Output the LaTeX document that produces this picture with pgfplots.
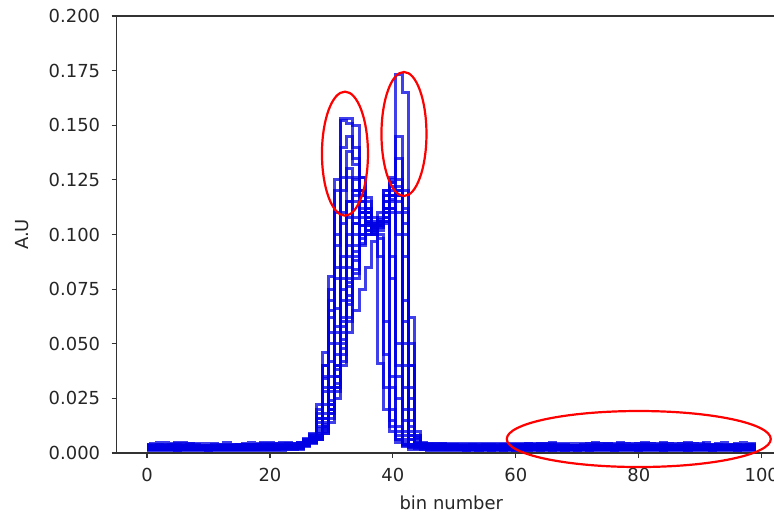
\documentclass[border=0pt]{standalone}
\usepackage{pgfplots}
\pgfplotsset{compat=1.18}
\usepackage{pgfplotstable}
\usepackage{fontspec}
\setmainfont{DejaVu Sans}

\pgfplotstableread{
x A B C D E F G H
0 .0040 .0034 .0030 .0026 .0022 .0018 .0014 .0010
1 .0044 .0036 .0032 .0028 .0024 .0020 .0016 .0012
2 .0046 .0038 .0030 .0026 .0024 .0018 .0014 .0010
3 .0048 .0036 .0032 .0030 .0022 .0020 .0016 .0012
4 .0044 .0040 .0034 .0028 .0024 .0018 .0014 .0010
5 .0046 .0038 .0030 .0026 .0022 .0020 .0012 .0010
6 .0048 .0036 .0032 .0028 .0024 .0018 .0016 .0012
7 .0042 .0038 .0034 .0030 .0022 .0020 .0014 .0010
8 .0038 .0034 .0030 .0026 .0024 .0018 .0016 .0012
9 .0036 .0032 .0030 .0028 .0022 .0020 .0014 .0010
10 .0036 .0034 .0028 .0026 .0024 .0018 .0012 .0010
11 .0038 .0032 .0030 .0024 .0022 .0016 .0014 .0012
12 .0040 .0034 .0030 .0026 .0020 .0018 .0016 .0010
13 .0046 .0036 .0032 .0028 .0024 .0020 .0014 .0012
14 .0040 .0034 .0030 .0026 .0022 .0018 .0016 .0010
15 .0038 .0036 .0032 .0028 .0024 .0020 .0014 .0012
16 .0044 .0038 .0030 .0026 .0022 .0018 .0016 .0010
17 .0046 .0036 .0034 .0030 .0024 .0020 .0014 .0012
18 .0042 .0038 .0032 .0028 .0022 .0018 .0016 .0010
19 .0046 .0036 .0030 .0026 .0024 .0020 .0014 .0012
20 .0048 .0040 .0032 .0028 .0022 .0018 .0016 .0010
21 .0044 .0038 .0034 .0030 .0024 .0020 .0014 .0012
22 .0046 .0040 .0036 .0030 .0026 .0022 .0016 .0012
23 .0046 .0042 .0036 .0032 .0028 .0024 .0018 .0014
24 .0044 .0040 .0036 .0030 .0026 .0022 .0018 .0014
25 .0046 .0050 .0040 .0036 .0030 .0024 .0020 .0016
26 .0052 .0068 .0060 .0048 .0050 .0036 .0040 .0030
27 .0070 .0090 .0080 .0060 .0070 .0055 .0060 .0045
28 .0140 .0220 .0180 .0080 .0160 .0070 .0120 .0060
29 .0300 .0460 .0400 .0120 .0350 .0090 .0280 .0100
30 .0550 .0810 .0750 .0200 .0650 .0140 .0500 .0200
31 .0850 .1250 .1200 .0400 .1000 .0250 .0800 .0300
32 .1050 .1530 .1520 .0850 .1260 .0500 .1100 .0400
33 .1150 .1530 .1510 .1150 .1300 .0800 .1260 .0550
34 .1150 .1500 .1400 .1250 .1200 .1050 .1260 .0650
35 .1100 .1260 .1200 .1260 .1100 .1150 .1200 .0750
36 .1050 .1170 .1100 .1150 .1050 .1120 .1080 .0850
37 .1000 .1060 .1050 .1050 .1000 .1080 .1030 .0970
38 .1050 .1020 .1080 .1100 .1060 .1070 .1040 .0410
39 .1150 .1080 .1200 .1200 .1180 .1150 .1120 .0200
40 .1250 .1120 .1260 .1240 .1220 .1200 .1180 .0100
41 .1730 .0400 .1450 .1200 .1250 .1100 .1000 .0050
42 .1650 .0150 .1200 .1000 .0900 .0700 .0600 .0035
43 .0620 .0060 .0500 .0400 .0300 .0200 .0150 .0025
44 .0100 .0045 .0080 .0070 .0060 .0050 .0050 .0020
45 .0050 .0042 .0040 .0036 .0032 .0026 .0022 .0016
46 .0044 .0038 .0034 .0030 .0026 .0020 .0016 .0012
47 .0044 .0036 .0032 .0028 .0024 .0018 .0014 .0010
48 .0042 .0038 .0030 .0026 .0022 .0020 .0016 .0012
49 .0040 .0036 .0032 .0028 .0024 .0018 .0014 .0010
50 .0038 .0034 .0030 .0026 .0022 .0020 .0016 .0012
51 .0036 .0034 .0028 .0026 .0020 .0018 .0014 .0010
52 .0036 .0032 .0030 .0024 .0022 .0016 .0012 .0010
53 .0038 .0034 .0028 .0026 .0020 .0018 .0014 .0012
54 .0036 .0032 .0030 .0024 .0022 .0016 .0012 .0010
55 .0040 .0034 .0030 .0026 .0020 .0018 .0014 .0010
56 .0038 .0036 .0028 .0026 .0022 .0016 .0012 .0010
57 .0036 .0032 .0030 .0024 .0020 .0018 .0014 .0012
58 .0040 .0034 .0028 .0026 .0022 .0016 .0012 .0010
59 .0036 .0032 .0030 .0024 .0020 .0018 .0014 .0010
60 .0038 .0034 .0028 .0026 .0022 .0016 .0012 .0010
61 .0040 .0036 .0030 .0024 .0020 .0018 .0014 .0012
62 .0044 .0034 .0028 .0026 .0022 .0016 .0012 .0010
63 .0040 .0036 .0030 .0024 .0020 .0018 .0014 .0010
64 .0044 .0034 .0032 .0026 .0022 .0016 .0012 .0012
65 .0042 .0036 .0030 .0028 .0020 .0018 .0014 .0010
66 .0046 .0038 .0032 .0026 .0022 .0016 .0012 .0010
67 .0040 .0036 .0030 .0028 .0024 .0018 .0014 .0012
68 .0038 .0034 .0028 .0026 .0022 .0016 .0012 .0010
69 .0036 .0032 .0030 .0024 .0020 .0018 .0014 .0010
70 .0036 .0034 .0028 .0026 .0022 .0016 .0012 .0012
71 .0038 .0032 .0030 .0024 .0020 .0018 .0014 .0010
72 .0044 .0036 .0032 .0026 .0022 .0016 .0012 .0010
73 .0046 .0038 .0030 .0028 .0024 .0018 .0014 .0012
74 .0042 .0036 .0032 .0026 .0022 .0020 .0016 .0010
75 .0044 .0038 .0030 .0028 .0024 .0018 .0014 .0012
76 .0040 .0036 .0032 .0026 .0022 .0016 .0012 .0010
77 .0046 .0038 .0030 .0028 .0024 .0018 .0014 .0010
78 .0042 .0036 .0032 .0026 .0022 .0020 .0016 .0012
79 .0040 .0034 .0030 .0028 .0024 .0018 .0014 .0010
80 .0044 .0036 .0032 .0026 .0022 .0016 .0012 .0010
81 .0046 .0038 .0030 .0028 .0024 .0018 .0014 .0012
82 .0042 .0036 .0032 .0026 .0022 .0020 .0016 .0010
83 .0040 .0034 .0030 .0028 .0024 .0018 .0014 .0012
84 .0046 .0038 .0032 .0026 .0022 .0016 .0012 .0010
85 .0044 .0036 .0030 .0028 .0024 .0018 .0014 .0010
86 .0040 .0034 .0032 .0026 .0022 .0020 .0016 .0012
87 .0044 .0036 .0030 .0028 .0024 .0018 .0014 .0010
88 .0046 .0038 .0032 .0026 .0022 .0016 .0012 .0012
89 .0042 .0036 .0030 .0028 .0024 .0018 .0014 .0010
90 .0040 .0034 .0032 .0026 .0022 .0020 .0016 .0010
91 .0046 .0038 .0030 .0028 .0024 .0018 .0014 .0012
92 .0040 .0036 .0032 .0026 .0022 .0016 .0012 .0010
93 .0044 .0038 .0030 .0028 .0024 .0018 .0014 .0010
94 .0046 .0036 .0032 .0026 .0022 .0020 .0016 .0012
95 .0040 .0034 .0030 .0028 .0024 .0018 .0014 .0010
96 .0044 .0038 .0032 .0026 .0022 .0016 .0012 .0012
97 .0046 .0036 .0030 .0028 .0024 .0018 .0014 .0010
98 .0042 .0038 .0032 .0026 .0022 .0020 .0016 .0010
99 .0044 .0036 .0030 .0028 .0024 .0018 .0014 .0012
}\hist

\definecolor{axgray}{RGB}{50,50,50}
\definecolor{histblue}{RGB}{0,0,228}
\pgfplotsset{hstyle/.style={const plot mark mid, histblue, opacity=0.75, line width=3.0bp, no marks}}

\begin{document}
\begin{tikzpicture}
\begin{axis}[
  name=ax, at={(0,0)}, anchor=south west,
  scale only axis, width=669.4bp, height=437bp,
  xmin=-4.95, xmax=103.95, ymin=0, ymax=0.2,
  clip=false,
  axis line style={axgray, line width=1.1bp},
  tick pos=left, tick align=outside,
  major tick length=5bp,
  tick style={axgray, line width=1.1bp},
  xtick={0,20,40,60,80,100},
  ytick={0,0.025,0.05,0.075,0.1,0.125,0.15,0.175,0.2},
  /pgf/number format/assume math mode=true,
  yticklabel style={xshift=-8bp, /pgf/number format/fixed, /pgf/number format/fixed zerofill, /pgf/number format/precision=3},
  xticklabel style={yshift=-7bp, /pgf/number format/fixed, /pgf/number format/precision=0},
  tick label style={font=\fontsize{18}{21}\selectfont, text=black!85},
  every axis label/.append style={font=\fontsize{18}{21}\selectfont, text=black!85},
  xlabel={bin number},
  ylabel={A.U},
  xlabel style={at={(axis description cs:0.5,0)}, anchor=center, yshift=-50bp},
  ylabel style={at={(axis description cs:-0.1413,0.5)}, anchor=center},
]
\addplot[hstyle] table[x=x, y=A]{\hist};
\addplot[hstyle] table[x=x, y=B]{\hist};
\addplot[hstyle] table[x=x, y=C]{\hist};
\addplot[hstyle] table[x=x, y=D]{\hist};
\addplot[hstyle] table[x=x, y=E]{\hist};
\addplot[hstyle] table[x=x, y=F]{\hist};
\addplot[hstyle] table[x=x, y=G]{\hist};
\addplot[hstyle] table[x=x, y=H]{\hist};
% I
\addplot[hstyle] coordinates {(0,.0030)(8,.0030)(9,.0026)(17,.0026)(18,.0032)(24,.0032)(25,.0034)(26,.0040)(27,.0050)(28,.008)(29,.014)(30,.028)(31,.045)(32,.062)(33,.078)(34,.090)(35,.098)(36,.100)(37,.100)(38,.098)(39,.030)(40,.012)(41,.006)(42,.004)(43,.0032)(60,.0032)(61,.0026)(75,.0026)(76,.0032)(99,.0032)};
% J
\addplot[hstyle] coordinates {(0,.0022)(12,.0022)(13,.0018)(21,.0018)(22,.0024)(25,.0026)(26,.0036)(27,.0055)(28,.009)(29,.018)(30,.035)(31,.058)(32,.080)(33,.095)(34,.105)(35,.108)(36,.104)(37,.102)(38,.104)(39,.106)(40,.035)(41,.012)(42,.006)(43,.004)(44,.0026)(55,.0026)(56,.0020)(70,.0020)(71,.0024)(99,.0024)};
% K
\addplot[hstyle] coordinates {(0,.0034)(14,.0034)(15,.0038)(20,.0038)(21,.0034)(25,.0036)(26,.0050)(27,.0065)(28,.011)(29,.022)(30,.042)(31,.066)(32,.090)(33,.108)(34,.118)(35,.118)(36,.110)(37,.104)(38,.103)(39,.110)(40,.118)(41,.122)(42,.030)(43,.008)(44,.0040)(45,.0038)(65,.0038)(66,.0034)(99,.0034)};
% L
\addplot[hstyle] coordinates {(0,.0018)(10,.0018)(11,.0022)(23,.0022)(24,.0026)(25,.0030)(26,.0045)(27,.0065)(28,.010)(29,.016)(30,.030)(31,.055)(32,.075)(33,.100)(34,.120)(35,.115)(36,.110)(37,.104)(38,.104)(39,.105)(40,.110)(41,.115)(42,.105)(43,.012)(44,.0045)(45,.0025)(80,.0025)(81,.0020)(99,.0020)};
% M
\addplot[hstyle] coordinates {(0,.0026)(6,.0026)(7,.0030)(16,.0030)(17,.0026)(25,.0032)(26,.0055)(27,.0075)(28,.016)(29,.034)(30,.062)(31,.095)(32,.120)(33,.138)(34,.132)(35,.118)(36,.110)(37,.102)(38,.106)(39,.112)(40,.115)(41,.118)(42,.112)(43,.025)(44,.0065)(45,.0030)(99,.0030)};
% N
\addplot[hstyle] coordinates {(0,.0038)(4,.0038)(5,.0042)(11,.0042)(12,.0038)(25,.0042)(26,.0060)(27,.0085)(28,.020)(29,.040)(30,.070)(31,.110)(32,.140)(33,.145)(34,.135)(35,.120)(36,.112)(37,.104)(38,.105)(39,.118)(40,.124)(41,.135)(42,.110)(43,.040)(44,.0080)(45,.0042)(90,.0042)(91,.0038)(99,.0038)};
% P
\addplot[hstyle] coordinates {(0,.0028)(15,.0028)(16,.0024)(25,.0030)(26,.0040)(27,.0050)(28,.007)(29,.012)(30,.022)(31,.035)(32,.048)(33,.070)(34,.095)(35,.110)(36,.108)(37,.105)(38,.106)(39,.112)(40,.118)(41,.120)(42,.050)(43,.010)(44,.0040)(45,.0030)(70,.0030)(71,.0026)(99,.0026)};
% Q
\addplot[hstyle] coordinates {(0,.0020)(20,.0020)(21,.0024)(25,.0028)(26,.0035)(27,.0050)(28,.0065)(29,.011)(30,.018)(31,.032)(32,.060)(33,.085)(34,.100)(35,.104)(36,.102)(37,.101)(38,.103)(39,.110)(40,.080)(41,.025)(42,.008)(43,.004)(44,.0030)(85,.0030)(86,.0024)(99,.0024)};
% R
\addplot[hstyle] coordinates {(0,.0016)(18,.0016)(19,.0020)(25,.0024)(26,.0040)(27,.0050)(28,.006)(29,.009)(30,.016)(31,.028)(32,.045)(33,.062)(34,.080)(35,.095)(36,.100)(37,.103)(38,.105)(39,.108)(40,.030)(41,.010)(42,.005)(43,.0030)(50,.0030)(51,.0018)(99,.0018)};
% S
\addplot[hstyle] coordinates {(0,.0032)(10,.0032)(11,.0028)(25,.0032)(26,.0045)(27,.0055)(28,.007)(29,.011)(30,.020)(31,.035)(32,.055)(33,.072)(34,.088)(35,.100)(36,.104)(37,.102)(38,.104)(39,.106)(40,.112)(41,.035)(42,.010)(43,.004)(44,.0032)(99,.0032)};
% T
\addplot[hstyle] coordinates {(0,.0024)(25,.0028)(26,.0042)(27,.0055)(28,.008)(29,.013)(30,.024)(31,.040)(32,.058)(33,.076)(34,.092)(35,.104)(36,.106)(37,.103)(38,.100)(39,.060)(40,.020)(41,.008)(42,.004)(43,.0028)(99,.0028)};
% U
\addplot[hstyle] coordinates {(0,.0036)(7,.0036)(8,.0032)(25,.0036)(26,.0044)(27,.0055)(28,.006)(29,.010)(30,.018)(31,.030)(32,.042)(33,.060)(34,.082)(35,.100)(36,.106)(37,.104)(38,.106)(39,.112)(40,.116)(41,.118)(42,.040)(43,.008)(44,.0036)(99,.0036)};
% V
\addplot[hstyle] coordinates {(0,.0014)(25,.0020)(26,.0040)(27,.0055)(28,.007)(29,.012)(30,.022)(31,.038)(32,.052)(33,.068)(34,.084)(35,.096)(36,.102)(37,.101)(38,.090)(39,.045)(40,.015)(41,.006)(42,.0030)(43,.0016)(99,.0016)};
% W
\addplot[hstyle] coordinates {(0,.0030)(25,.0034)(26,.0048)(27,.0060)(28,.009)(29,.016)(30,.030)(31,.050)(32,.070)(33,.090)(34,.108)(35,.112)(36,.108)(37,.103)(38,.104)(39,.110)(40,.090)(41,.050)(42,.020)(43,.006)(44,.0030)(99,.0030)};
\draw[red, line width=2.2bp] (axis cs:32.2,0.137) ellipse [x radius=23bp, y radius=62bp];
\draw[red, line width=2.2bp] (axis cs:41.8,0.146) ellipse [x radius=22.5bp, y radius=62bp];
\draw[red, line width=2.2bp] (axis cs:80.0,0.0064) ellipse [x radius=132bp, y radius=28bp];
\end{axis}
\pgfresetboundingbox
\useasboundingbox (-116.6bp,-62bp) rectangle (657.4bp,453bp);
\end{tikzpicture}
\end{document}
